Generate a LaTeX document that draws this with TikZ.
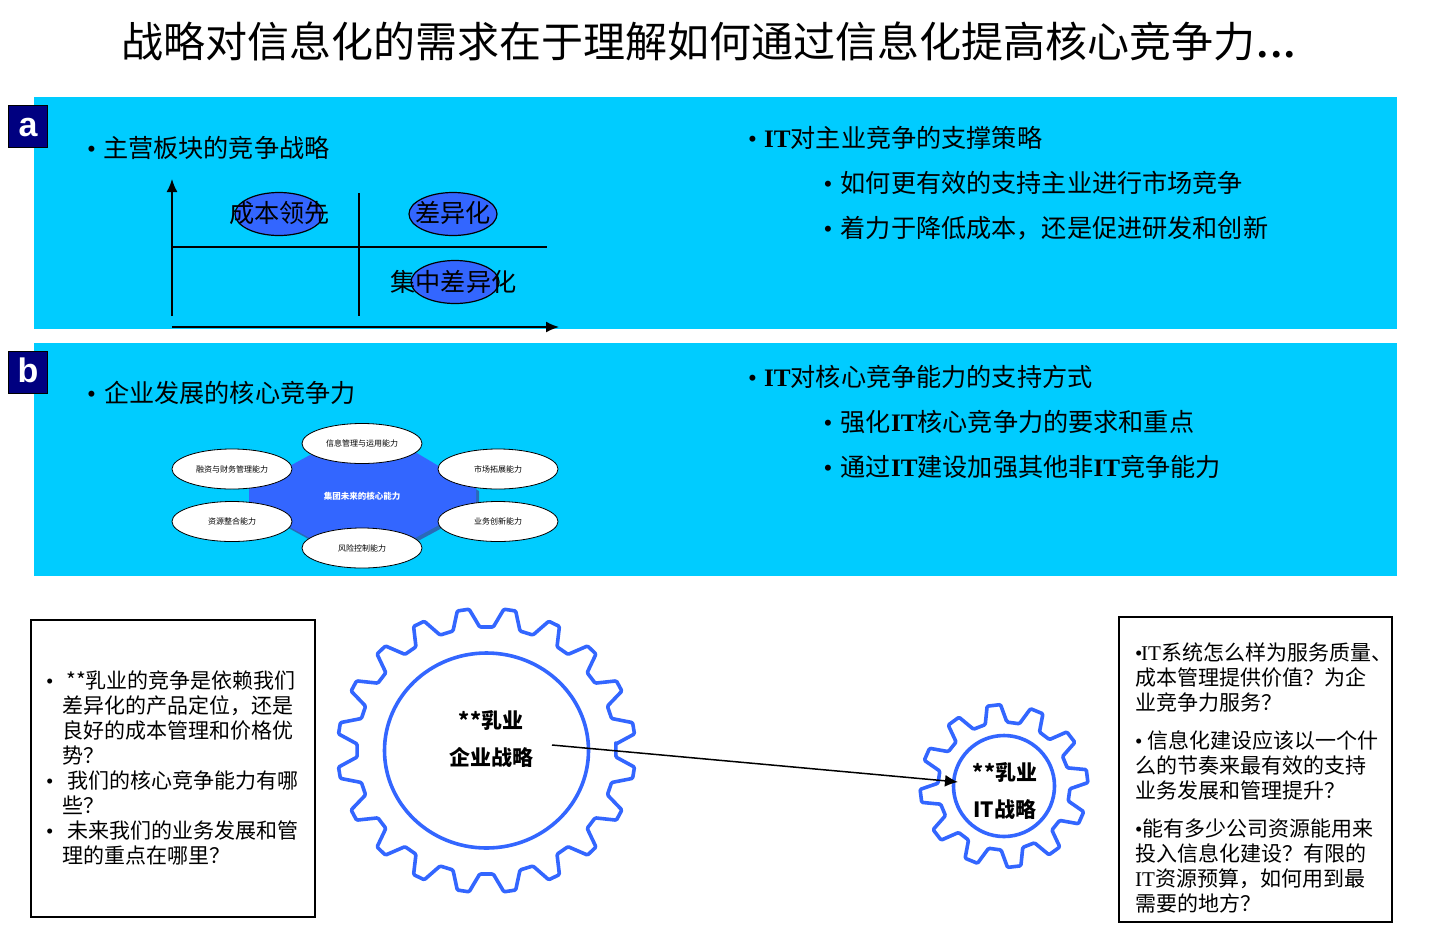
\documentclass[tikz,border=0pt]{standalone}
\usepackage{fontspec}
\setmainfont{Noto Sans CJK SC}
\setsansfont{Liberation Sans}
\newfontfamily\latf{Liberation Serif}
\usetikzlibrary{arrows.meta,shapes.geometric}
\definecolor{panelBlue}{HTML}{00CCFF}
\definecolor{gearBlue}{HTML}{3366FF}
\definecolor{hubShade}{HTML}{2A6AB8}
\definecolor{badgeNavy}{HTML}{000080}

\newcommand{\bul}[1]{\makebox[#1pt][l]{\latf •}}
\newcommand{\itb}{{\latf\bfseries IT}}
\newcommand{\itr}{{\latf IT}}
% cx, cy, tip radius, root radius, y ratio, teeth, first angle, half tip, half root
\newcommand{\gearShape}[9]{%
  \pgfmathsetmacro{\gearStep}{360/#6}
  \pgfmathsetmacro{\gearLast}{int(#6-1)}
  \draw[gearLine] ({#1+#4*cos(#7-\gearStep/2+#9)},{#2-#4*#5*sin(#7-\gearStep/2+#9)})
    \foreach \k [evaluate=\k as \a using #7+\k*\gearStep] in {0,...,\gearLast} {
      -- ({#1+#3*cos(\a-#8)},{#2-#3*#5*sin(\a-#8)})
      -- ({#1+#3*cos(\a+#8)},{#2-#3*#5*sin(\a+#8)})
      -- ({#1+#4*cos(\a+\gearStep/2-#9)},{#2-#4*#5*sin(\a+\gearStep/2-#9)})
      -- ({#1+#4*cos(\a+\gearStep/2+#9)},{#2-#4*#5*sin(\a+\gearStep/2+#9)})
    } -- cycle;}

\begin{document}
\begin{tikzpicture}[x=1pt,y=-1pt,
    panel/.style={fill=panelBlue, draw=none, minimum width=1363pt, inner sep=0pt},
    badge/.style={fill=badgeNavy, draw=black, line width=1.5pt, minimum width=39pt, minimum height=42pt, inner sep=0pt, text=white, text height=20pt, text depth=0pt, font=\sffamily\bfseries\fontsize{34}{34}\selectfont},
    bigText/.style={anchor=west, inner sep=0pt, font=\fontsize{25.15}{30}\selectfont},
    quadLabel/.style={inner sep=0pt, font=\fontsize{25.15}{30}\selectfont},
    quadOval/.style={ellipse, fill=gearBlue, draw=black, line width=1.2pt, minimum width=88pt, minimum height=43pt, inner sep=0pt},
    axisArrow/.style={-{Latex[length=13pt,width=11pt]}, line width=1.6pt},
    quadLine/.style={line width=1.5pt},
    capOval/.style={ellipse, fill=white, draw=black, line width=.8pt, minimum width=120pt, minimum height=40pt, inner sep=0pt, font=\fontsize{8}{8}\selectfont},
    questionBox/.style={draw=black, line width=2pt, fill=white, inner sep=0pt},
    questionText/.style={anchor=north west, inner sep=0pt, align=left, font=\fontsize{21}{25}\selectfont},
    gearLine/.style={draw=gearBlue, line width=3.6pt, rounded corners=1.2pt, line join=round},
    gearLabel/.style={inner sep=0pt, font=\bfseries\fontsize{21}{24}\selectfont}]

\useasboundingbox (0,0) rectangle (1434,927);
\fill[white] (0,0) rectangle (1434,927);

% Title
\node[inner sep=0pt, font=\fontsize{42}{46}\selectfont] (title) at (708.5,41) {战略对信息化的需求在于理解如何通过信息化提高核心竞争力{\latf\bfseries\hspace{2pt}.\hspace{3pt}.\hspace{3pt}.}};

% Panels and badges
\node[panel, minimum height=232pt] (panelA) at (715.5,213) {};
\node[panel, minimum height=233pt] (panelB) at (715.5,459.5) {};
\node[badge] (badgeA) at (28,126.5) {a};
\node[badge] (badgeB) at (28,372.5) {b};

% Panel a, left
\node[bigText] (aHead) at (87,147.5) {\bul{16}主营板块的竞争战略};
\coordinate (yBase) at (172,316);
\coordinate (yTip) at (172,179);
\coordinate (xBase) at (172,327);
\coordinate (xTip) at (559,327);
\coordinate (hStart) at (172,247);
\coordinate (hEnd) at (547,247);
\coordinate (vStart) at (359,193);
\coordinate (vEnd) at (359,316);
\draw[axisArrow] (yBase) -- (yTip);
\draw[axisArrow] (xBase) -- (xTip);
\draw[quadLine] (hStart) -- (hEnd);
\draw[quadLine] (vStart) -- (vEnd);
\node[quadOval] (ovalCost) at (279,214) {};
\node[quadOval] (ovalDiff) at (453,214) {};
\node[quadOval] (ovalFocus) at (455,282) {};
\node[quadLabel] (txtCost) at (279.5,213) {成本领先};
\node[quadLabel] (txtDiff) at (453,213) {差异化};
\node[quadLabel] (txtFocus) at (453.5,282) {集中差异化};

% Panel a, right
\node[bigText] (aRight) at (748,138) {\bul{16}\itb 对主业竞争的支撑策略};
\node[bigText] (aSubOne) at (823.5,183) {\bul{17}如何更有效的支持主业进行市场竞争};
\node[bigText] (aSubTwo) at (823.5,228) {\bul{17}着力于降低成本，还是促进研发和创新};

% Panel b, left
\node[bigText] (bHead) at (87,393) {\bul{17}企业发展的核心竞争力};
\fill[hubShade] (252,491) -- (312,458) -- (418,455) -- (479,491) -- (479,508) -- (418,541) -- (312,541) -- (252,508) -- cycle;
\fill[gearBlue] (249,488) -- (310,455) -- (415,452) -- (476,488) -- (476,505) -- (415,538) -- (310,538) -- (249,505) -- cycle;
\node[inner sep=0pt, text=white, font=\bfseries\fontsize{8.5}{8.5}\selectfont] (hubLabel) at (362,496) {集团未来的核心能力};
\node[capOval] (capInfo) at (362,443.5) {信息管理与运用能力};
\node[capOval] (capFinance) at (232,469) {融资与财务管理能力};
\node[capOval] (capMarket) at (498,469) {市场拓展能力};
\node[capOval] (capResource) at (232,521.5) {资源整合能力};
\node[capOval] (capInnovate) at (498,521.5) {业务创新能力};
\node[capOval] (capRisk) at (362,548) {风险控制能力};

% Panel b, right
\node[bigText] (bRight) at (748,377) {\bul{16}\itb 对核心竞争能力的支持方式};
\node[bigText] (bSubOne) at (823.5,422) {\bul{17}强化\itb 核心竞争力的要求和重点};
\node[bigText] (bSubTwo) at (823.5,467) {\bul{17}通过\itb 建设加强其他非\itb 竞争能力};

% Question boxes
\node[questionBox, minimum width=284pt, minimum height=297pt] (leftBox) at (173,768.5) {};
\node[questionBox, minimum width=273pt, minimum height=305pt] (rightBox) at (1255.5,769.5) {};
\node[questionText] (leftText) at (46,671) {\bul{20}**乳业的竞争是依赖我们\\
\hspace*{16pt}差异化的产品定位，还是\\
\hspace*{16pt}良好的成本管理和价格优\\
\hspace*{16pt}势？\\
\bul{21}我们的核心竞争能力有哪\\
\hspace*{16pt}些？\\
\bul{21}未来我们的业务发展和管\\
\hspace*{16pt}理的重点在哪里？};
\node[questionText] (rightOne) at (1135,643) {\bul{6}\itr 系统怎么样为服务质量、\\成本管理提供价值？为企\\业竞争力服务？};
\node[questionText] (rightTwo) at (1135,730.5) {\bul{12}信息化建设应该以一个什\\么的节奏来最有效的支持\\业务发展和管理提升？};
\node[questionText] (rightThree) at (1135,819) {\bul{7}能有多少公司资源能用来\\投入信息化建设？有限的\\\itr 资源预算，如何用到最\\需要的地方？};

% Gears
\gearShape{486.5}{750.5}{149}{129.5}{.955}{20}{9}{2.3}{3}
\draw[gearLine] (486.5,750.5) ellipse [x radius=102, y radius=97.5];
\gearShape{1004}{786}{84}{66}{.97}{12}{97}{4.6}{5.5}
\draw[gearLine] (1004,786) circle [radius=50.5];
\node[gearLabel] (bigTop) at (491,720) {**乳业};
\node[gearLabel] (bigBottom) at (491,757) {企业战略};
\node[gearLabel] (smallTop) at (1005,772) {**乳业};
\node[gearLabel] (smallBottom) at (1005,810) {IT战略};
\coordinate (linkStart) at (552,745);
\coordinate (linkEnd) at (958,782);
\draw[-{Latex[length=13pt,width=12pt]}, line width=1.5pt] (linkStart) -- (linkEnd);

\end{tikzpicture}
\end{document}
